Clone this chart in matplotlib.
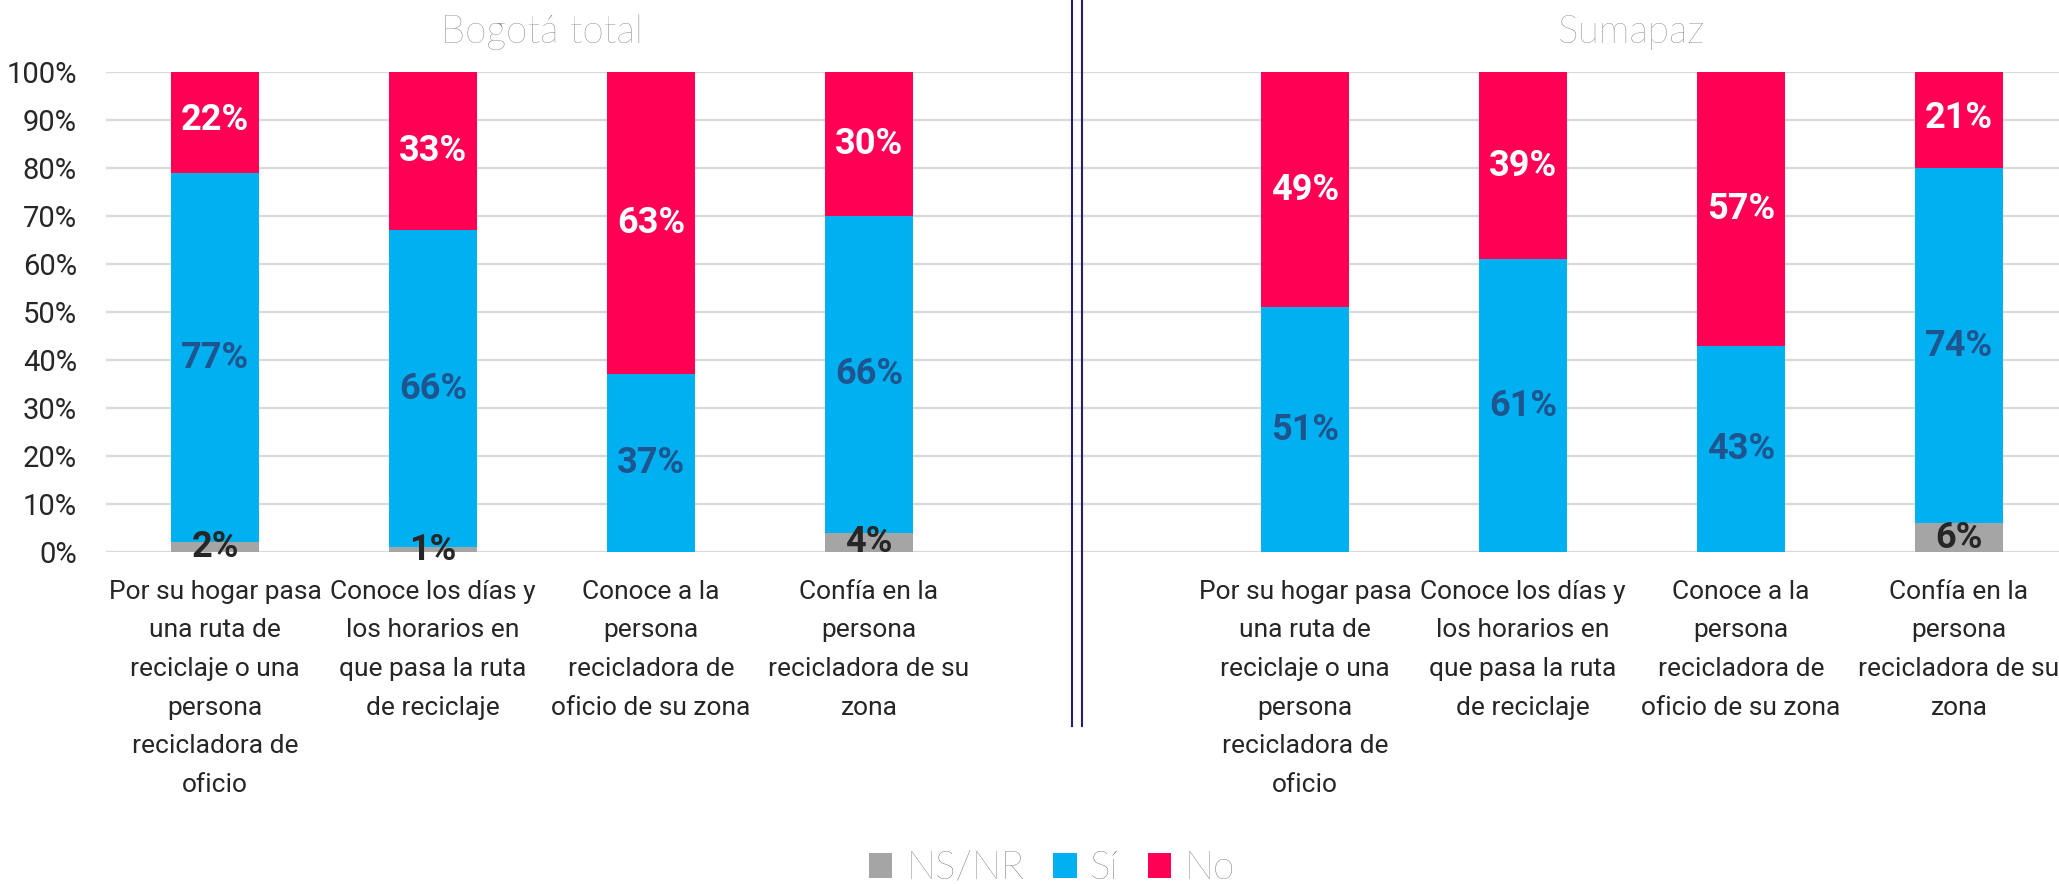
import matplotlib
matplotlib.use("Agg")
import matplotlib.pyplot as plt
import numpy as np
from matplotlib import font_manager
from matplotlib.patches import Patch
from matplotlib.lines import Line2D

# data
categories = [
    "Por su hogar pasa\nuna ruta de\nreciclaje o una\npersona\nrecicladora de\noficio",
    "Conoce los días y\nlos horarios en\nque pasa la ruta\nde reciclaje",
    "Conoce a la\npersona\nrecicladora de\noficio de su zona",
    "Confía en la\npersona\nrecicladora de su\nzona",
]
groups = ["Bogotá total", "Sumapaz"]
series = ["NS/NR", "Sí", "No"]

bogota_nsnr = [2, 1, 0, 4]
bogota_si = [77, 66, 37, 66]
bogota_no = [22, 33, 63, 30]

sumapaz_nsnr = [0, 0, 0, 6]
sumapaz_si = [51, 61, 43, 74]
sumapaz_no = [49, 39, 57, 21]

colors = ["#A5A5A5", "#00B0F0", "#FF0055"]
label_colors = ["#262626", "#1F558F", "white"]

names = {f.name for f in font_manager.fontManager.ttflist}
narrow = "Liberation Sans Narrow" if "Liberation Sans Narrow" in names else "Roboto"
light = "Lato" if "Lato" in names else "Open Sans"

plt.rcParams["font.family"] = [narrow, "DejaVu Sans"]

W, H = 2059, 884
fig = plt.figure(figsize=(W / 100, H / 100), dpi=100)
ax = fig.add_axes([106 / W, (H - 552) / H, (W - 106) / W, 480 / H])

step = 218.0
xlim_right = (W - 215) / step
pos_left = np.arange(4)
pos_right = np.arange(4) + 5

width = 0.4
for pos, vals in [(pos_left, [bogota_nsnr, bogota_si, bogota_no]),
                  (pos_right, [sumapaz_nsnr, sumapaz_si, sumapaz_no])]:
    bottom = np.zeros(4)
    for k, v in enumerate(vals):
        v = np.array(v, dtype=float)
        ax.bar(pos, v, width, bottom=bottom, color=colors[k], zorder=3)
        for x, b, h in zip(pos, bottom, v):
            if h > 0:
                ax.text(x, b + h / 2, f"{int(h)}%", ha="center", va="center",
                        color=label_colors[k], fontsize=26, fontweight="bold",
                        zorder=4)
        bottom += v

ax.set_xlim(-0.5, xlim_right)
ax.set_ylim(0, 100)
ax.set_yticks(np.arange(0, 101, 10))
ax.set_yticklabels([f"{t}%" for t in range(0, 101, 10)])
ax.set_xticks(list(pos_left) + list(pos_right))
ax.set_xticklabels(categories + categories, linespacing=1.77)
ax.tick_params(axis="x", length=0, pad=20, labelsize=19, colors="#262626")
ax.tick_params(axis="y", length=0, pad=21, labelsize=21, colors="#262626")
ax.yaxis.grid(True, color="#D9D9D9", linewidth=1.6, zorder=0)
ax.set_axisbelow(True)
for s in ax.spines.values():
    s.set_visible(False)

# group titles
for g, pos in zip(groups, [pos_left, pos_right]):
    xc = (pos[0] + pos[-1]) / 2
    ax.text(xc, 1.045, g, transform=ax.get_xaxis_transform(), ha="center",
            va="bottom", fontsize=28, color="#707070", family=light,
            fontweight="light")

# divider
for xp in [1072, 1082]:
    fig.add_artist(Line2D([xp / W, xp / W], [(H - 726) / H, 1.0],
                          transform=fig.transFigure, color="#2B1B72",
                          linewidth=1.5))

handles = [Patch(facecolor=c, edgecolor="none") for c in colors]
fig.legend(handles, series, loc="center", bbox_to_anchor=(0.511, 0.018),
           ncol=3, frameon=False, handlelength=0.6, handleheight=0.6,
           handletextpad=0.35, columnspacing=0.75,
           prop={"family": light, "weight": "light", "size": 28},
           labelcolor="#606060")

fig.savefig("out.png", dpi=100)
